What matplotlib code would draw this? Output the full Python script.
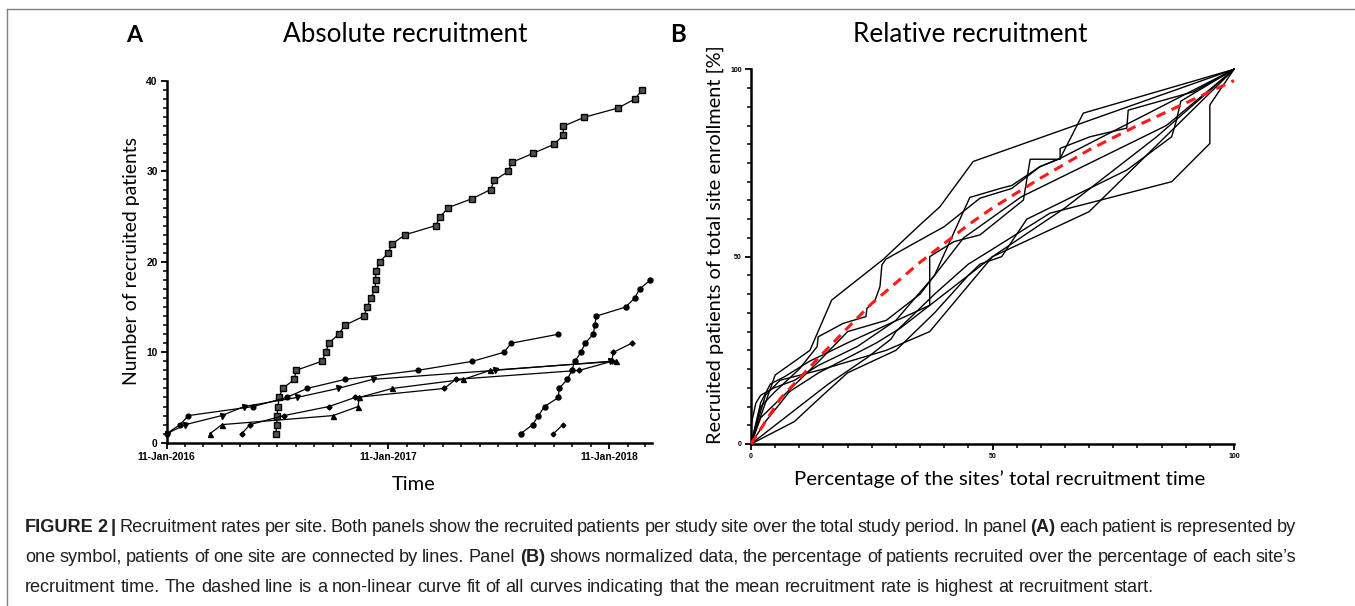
import numpy as np
import matplotlib
matplotlib.use("Agg")
import matplotlib.pyplot as plt
import matplotlib.dates as mdates
from matplotlib.ticker import MultipleLocator
from datetime import datetime

W, H = 1355, 606

# ---------------- Panel A: recruitment day (days after 11-Jan-2016) per patient
square_days = [180, 182, 182, 184, 185.5, 191.5, 211, 213.5, 256, 263, 267.5, 284, 294.5,
               326, 331, 337, 344.5, 345, 345.6, 351.7, 366, 372.6, 394, 444, 452, 465,
               505, 535, 541, 564, 570, 605, 640, 655, 655, 690, 745, 773, 785]
square_n = [1, 2, 3, 4, 5, 6, 7, 8, 9, 10, 11, 12, 13, 14, 15, 16, 17, 18, 19, 20,
            21, 22, 23, 24, 25, 26, 27, 28, 29, 30, 31, 32, 33, 34, 35, 36, 37, 38, 39]
circle_days = [0, 22, 36, 143, 198, 232, 294.5, 414.5, 505, 557, 569, 647]
circle_n = [1, 2, 3, 4, 5, 6, 7, 8, 9, 10, 11, 12]
tdown_days = [0, 31, 91, 128, 215, 283, 340, 542, 732]
tdown_n = [1, 2, 3, 4, 5, 6, 7, 8, 9]
tup_days = [71.5, 91.3, 275, 316, 318, 372.6, 490, 534, 742]
tup_n = [1, 2, 3, 4, 5, 6, 7, 8, 9]
diamond_days = [124, 137.6, 193.7, 268, 311, 458.5, 477, 681.5, 735, 737.6, 768]
diamond_n = [1, 2, 3, 4, 5, 6, 7, 8, 9, 10, 11]
late_days = [584.6, 604.5, 614, 624, 647, 648, 661.7, 669, 674, 684, 691, 704.6, 707,
             709.5, 758, 773, 781, 799]
late_n = [1, 2, 3, 4, 5, 6, 7, 8, 9, 10, 11, 12, 13, 14, 15, 16, 17, 18]
small_days = [638.6, 654.6]
small_n = [1, 2]

# ---------------- Panel B: % of site recruitment time vs % of site enrollment
rel_curves = [
    ([0, 5, 12.2, 16.7, 27.4, 35, 39.1, 46, 100],
     [0, 18.4, 25, 38.4, 49.3, 58.5, 63.3, 75.4, 100]),
    ([0, 1, 2, 4.6, 9, 14, 22, 30, 38, 45.3, 51.6, 54, 59.8, 64, 68.8, 100],
     [5, 10.9, 13, 14.9, 17, 21, 26, 33, 45, 65.8, 68.2, 69, 74, 76.2, 88.3, 100]),
    ([0, 3, 8, 14, 20, 26, 31, 37, 37, 42, 47.4, 56.4, 57.8, 64, 64, 70.2, 77.8, 78.1, 91.6, 100],
     [0, 6, 14, 19, 23, 27, 31, 37, 50, 54, 55.8, 65.1, 76, 76, 78.9, 82, 84.3, 89.1, 94, 100]),
    ([0, 2, 5, 10, 13.7, 13.9, 19.1, 23.8, 24, 25.7, 26.7, 27.1, 27.9, 33, 40, 47.4, 54, 59.8, 64, 100],
     [0, 10, 14, 20, 26, 28.6, 32.2, 34, 36.2, 38.4, 42, 47.8, 49.3, 53, 58, 65.6, 68.2, 74, 76.2, 100]),
    ([0, 9, 14, 20, 30, 38, 45, 47.4, 51.9, 57.1, 77.8, 87.1, 88, 89, 92.6, 100],
     [0, 6, 12, 19, 25, 35, 45, 48, 50, 60, 73.1, 82, 86, 91.5, 94.3, 100]),
    ([0, 8, 16, 24, 29, 30, 38, 45, 50, 61.9, 87.1, 95, 95, 100],
     [0, 8, 16, 23, 28, 30, 40, 48, 52, 61.6, 70, 80.2, 90.5, 100]),
    ([0, 3, 6, 15, 28, 37, 50, 70, 100],
     [0, 13, 17, 20, 25, 30, 50, 62, 100]),
    ([0, 2, 4, 7, 12, 20, 37, 50, 65, 84, 100],
     [0, 11, 16, 18, 22, 27, 37, 50, 63, 82, 100]),
    ([0, 2, 14, 20, 28, 35, 44, 56, 86, 100],
     [0, 7, 22, 30, 33, 40, 55, 66, 85, 100]),
]
fit_x = [0, 6, 14, 20, 25, 30, 35, 40, 45, 50, 55, 60, 70, 80, 90, 100]
fit_y = [0, 12, 23, 31, 37.5, 43, 48.5, 53.5, 58.5, 63, 67, 71, 78.5, 85, 91, 97]

caption = [
    [("FIGURE 2", True), ("|", True),
     ("Recruitment rates per site. Both panels show the recruited patients per study site "
      "over the total study period. In panel", False), ("(A)", True),
     ("each patient is represented by", False)],
    [("one symbol, patients of one site are connected by lines. Panel", False), ("(B)", True),
     ("shows normalized data, the percentage of patients recruited over the percentage of "
      "each site\u2019s", False)],
    [("recruitment time. The dashed line is a non-linear curve fit of all curves indicating "
      "that the mean recruitment rate is highest at recruitment start.", False)],
]

fig = plt.figure(figsize=(W / 100, H / 100), dpi=100)
renderer = fig.canvas.get_renderer()
LABEL_FONT = ["Lato", "DejaVu Sans"]
TICK_FONT = ["Liberation Sans", "DejaVu Sans"]
CAP_FONT = ["Liberation Sans", "DejaVu Sans"]


def fx(px):
    return px / W


def fy(py):
    return 1 - py / H


# ---------------- Panel A
axA = fig.add_axes([fx(166.7), fy(442.7), (651.7 - 166.7) / W, (442.7 - 81) / H])
t0 = mdates.date2num(datetime(2016, 1, 11))
series = [
    (square_days, square_n, dict(marker="s", ms=4.8, mfc="#505050", mec="black", mew=1.0)),
    (circle_days, circle_n, dict(marker="o", ms=3.4, mfc="black", mec="black")),
    (tdown_days, tdown_n, dict(marker="v", ms=3.6, mfc="black", mec="black")),
    (tup_days, tup_n, dict(marker="^", ms=3.6, mfc="black", mec="black")),
    (diamond_days, diamond_n, dict(marker="D", ms=2.6, mfc="black", mec="black")),
    (late_days, late_n, dict(marker="o", ms=3.6, mfc="black", mec="black")),
    (small_days, small_n, dict(marker="D", ms=2.4, mfc="black", mec="black")),
]
for days, n, style in series:
    axA.plot(t0 + np.array(days), n, color="black", lw=0.9, clip_on=False, zorder=3, **style)

axA.set_xlim(t0, t0 + 801)
axA.set_ylim(0, 40)
axA.xaxis.set_major_locator(mdates.YearLocator(month=1, day=11))
axA.xaxis.set_minor_locator(mdates.MonthLocator(bymonthday=11))
axA.xaxis.set_major_formatter(mdates.DateFormatter("%d-%b-%Y"))
axA.yaxis.set_major_locator(MultipleLocator(10))
axA.yaxis.set_minor_locator(MultipleLocator(1))

# ---------------- Panel B
axB = fig.add_axes([fx(751), fy(444), (1234 - 751) / W, (444 - 69.3) / H])
for xs, ys in rel_curves:
    axB.plot(xs, ys, color="black", lw=1.0, clip_on=False, zorder=2)
axB.plot(fit_x, fit_y, color="#ff1a1a", lw=2.2, dashes=(3.2, 2.2), zorder=3, clip_on=False)
axB.set_xlim(0, 100)
axB.set_ylim(0, 100)
axB.xaxis.set_major_locator(MultipleLocator(50))
axB.xaxis.set_minor_locator(MultipleLocator(5))
axB.yaxis.set_major_locator(MultipleLocator(50))
axB.yaxis.set_minor_locator(MultipleLocator(5))

for ax, lab in ((axA, 7.4), (axB, 5.0)):
    for side in ("top", "right"):
        ax.spines[side].set_visible(False)
    for side in ("left", "bottom"):
        ax.spines[side].set_linewidth(1.8)
    ax.tick_params(which="major", length=4.5, width=1.3, pad=2)
    ax.tick_params(which="minor", length=2.6, width=1.1)
    for t in ax.get_xticklabels() + ax.get_yticklabels():
        t.set_fontfamily(TICK_FONT)
        t.set_fontweight("bold")
        t.set_fontsize(lab)
    ax.patch.set_visible(False)


# ---------------- Text
def fit_text(s, xc, yc, size_px, rotation=0, **kw):
    t = fig.text(fx(xc), fy(yc), s, ha="center", va="center", rotation=rotation,
                 fontsize=10, **kw)
    bb = t.get_window_extent(renderer)
    cur = bb.height if rotation else bb.width
    t.set_fontsize(10 * size_px / cur)
    return t


fit_text("A", 134, 35, 16, family=LABEL_FONT, fontweight="bold")
fit_text("B", 678, 35, 16, family=LABEL_FONT, fontweight="bold")
fit_text("Absolute recruitment", 405, 35, 244, family=LABEL_FONT)
fit_text("Relative recruitment", 970, 35, 234, family=LABEL_FONT)
fit_text("Time", 414, 484, 44, family=LABEL_FONT)
fit_text("Percentage of the sites\u2019 total recruitment time", 999.5, 479, 413, family=LABEL_FONT)
fit_text("Number of recruited patients", 131, 261, 248, rotation=90, family=LABEL_FONT)
fit_text("Recruited patients of total site enrollment [%]", 715, 245, 400, rotation=90,
         family=LABEL_FONT)


def text_width(s, size, bold=False):
    t = fig.text(0, 0, s, fontsize=size, family=CAP_FONT,
                 fontweight="bold" if bold else "normal")
    w = t.get_window_extent(renderer).width
    t.remove()
    return w


def tokens_of(segments):
    out = []
    for text, bold in segments:
        for w in text.split():
            out.append((w, bold))
    return out


def natural_width(segments, size):
    toks = tokens_of(segments)
    space = text_width("a a", size) - text_width("aa", size)
    return sum(text_width(w, size, b) for w, b in toks) + space * (len(toks) - 1)


def caption_line(segments, y, x0, x1, size):
    toks = tokens_of(segments)
    widths = [text_width(w, size, b) for w, b in toks]
    space = text_width("a a", size) - text_width("aa", size)
    gap = space if x1 is None else (x1 - x0 - sum(widths)) / (len(toks) - 1)
    x = x0
    for (w, b), wd in zip(toks, widths):
        fig.text(fx(x), fy(y), w, ha="left", va="center", fontsize=size, family=CAP_FONT,
                 fontweight="bold" if b else "normal", color="#231f20")
        x += wd + gap


cap_size = 10 * (1160 - 25) / natural_width(caption[2], 10)
caption_line(caption[0], 527, 25, 1296, cap_size)
caption_line(caption[1], 557, 25, 1296, cap_size)
caption_line(caption[2], 587, 25, None, cap_size)

# frame around figure
fig.add_artist(plt.Line2D([fx(7), fx(7)], [fy(9), 0], color="#808080", lw=1.0))
fig.add_artist(plt.Line2D([fx(7), 1], [fy(9), fy(9)], color="#808080", lw=1.0))

fig.savefig("out.png", dpi=100)
